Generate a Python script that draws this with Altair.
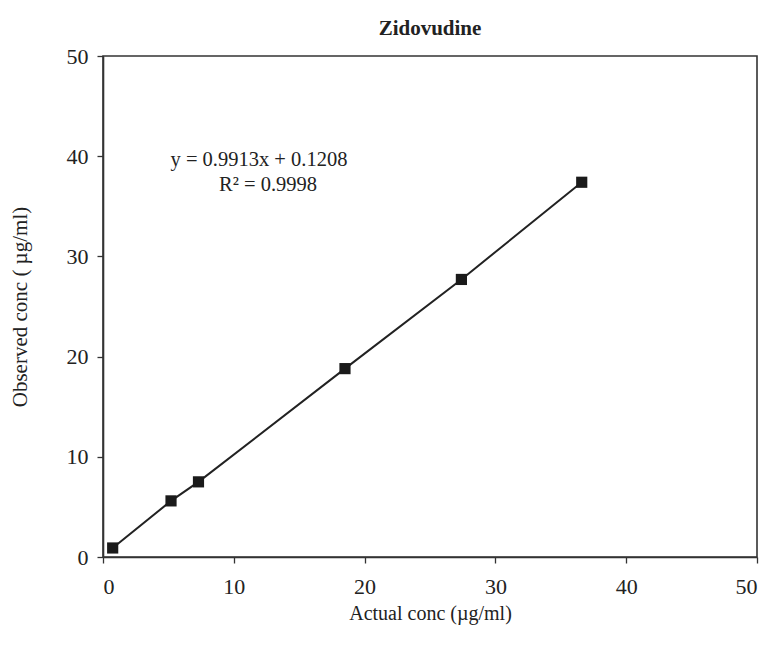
import altair as alt
import pandas as pd

actual = [0.74, 5.2, 7.3, 18.5, 27.4, 36.6]
observed = [0.9, 5.6, 7.5, 18.8, 27.7, 37.4]
x_ticks = [0, 10, 20, 30, 40, 50]
y_ticks = [0, 10, 20, 30, 40, 50]
equation_lines = ["y = 0.9913x + 0.1208", "R² = 0.9998"]

df = pd.DataFrame({"actual": actual, "observed": observed})
FONT = "Liberation Serif"

xs = alt.Scale(domain=[0, 50], nice=False, zero=True)
ys = alt.Scale(domain=[0, 50], nice=False, zero=True)

x_enc = alt.X("actual:Q", scale=xs,
              axis=alt.Axis(values=x_ticks, title="Actual conc (µg/ml)", grid=False,
                            labelFont=FONT, labelFontSize=22, labelColor="#222",
                            titleFont=FONT, titleFontSize=20, titleFontWeight="normal",
                            titleColor="#222", titlePadding=6, labelPadding=13,
                            tickSize=6, tickColor="#333", domainColor="#333",
                            domainWidth=1.6, tickWidth=1.3))
y_enc = alt.Y("observed:Q", scale=ys,
              axis=alt.Axis(values=y_ticks, title="Observed conc ( µg/ml)", grid=False,
                            labelFont=FONT, labelFontSize=22, labelColor="#222",
                            titleFont=FONT, titleFontSize=21, titleFontWeight="normal",
                            titleColor="#222", titlePadding=36, labelPadding=9,
                            tickSize=6, tickColor="#333", domainColor="#333",
                            domainWidth=1.6, tickWidth=1.3))

line = alt.Chart(df).mark_line(color="#222", strokeWidth=2).encode(x=x_enc, y=y_enc)
pts = alt.Chart(df).mark_square(color="#1a1a1a", size=125, opacity=1).encode(x=x_enc, y=y_enc)

eq_df = pd.DataFrame({"t": [equation_lines[0]]})
r2_df = pd.DataFrame({"t": [equation_lines[1]]})
eq = alt.Chart(eq_df).mark_text(font=FONT, fontSize=20.5, color="#222", align="center",
                                baseline="middle").encode(
    text="t:N", x=alt.value(156), y=alt.value(104))
r2 = alt.Chart(r2_df).mark_text(font=FONT, fontSize=20.5, color="#222", align="center",
                                baseline="middle").encode(
    text="t:N", x=alt.value(165), y=alt.value(129))

chart = alt.layer(line, pts, eq, r2).properties(
    width=654, height=501,
    title=alt.TitleParams("Zidovudine", font=FONT, fontSize=21, fontWeight="bold",
                          color="#222", anchor="middle", offset=6),
    padding={"left": 103, "top": 56, "right": 19, "bottom": 92},
    autosize=alt.AutoSizeParams(type="none"),
    background="white",
).configure_view(stroke="#333", strokeWidth=1.6)

chart.save("out.html", embed_options={"renderer": "svg", "actions": False})
